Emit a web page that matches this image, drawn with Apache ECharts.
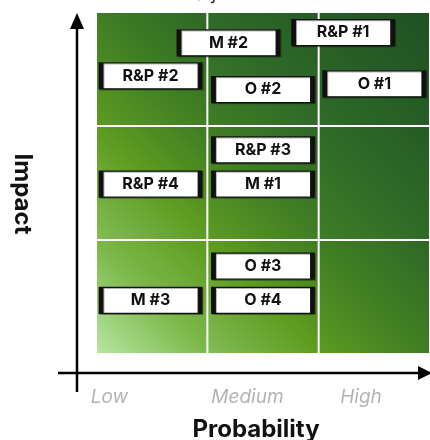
<!DOCTYPE html>
<html>
<head>
<meta charset="utf-8">
<script src="https://cdn.jsdelivr.net/npm/echarts@6/dist/echarts.min.js"></script>
<style>
  html, body { margin: 0; padding: 0; background: #ffffff; }
  #chart { width: 430px; height: 440px; }
</style>
</head>
<body>
<div id="chart"></div>
<script>
// Probability levels along the horizontal axis and where their labels sit
const probabilityLevels = ['Low', 'Medium', 'High'];
const probabilityLabelAt = [0.12, 1.36, 2.38];

// Risks: name, probability score (0-3), impact score (0-3)
const riskNames = ['R&P #1', 'M #2', 'R&P #2', 'O #2', 'O #1', 'R&P #3', 'R&P #4', 'M #1', 'O #3', 'O #4', 'M #3'];
const riskProbability = [2.22, 1.19, 0.49, 1.50, 2.50, 1.50, 0.49, 1.50, 1.50, 1.50, 0.49];
const riskImpact = [2.82, 2.73, 2.44, 2.32, 2.37, 1.79, 1.49, 1.49, 0.77, 0.47, 0.47];

// 3x3 matrix cells: [probability band, impact band]
const matrixCells = [[0, 0], [1, 0], [2, 0], [0, 1], [1, 1], [2, 1], [0, 2], [1, 2], [2, 2]];

// Green shades per severity step (band sum), bottom-left -> top-right of each cell
const cellShades = [
  ['#b6e5a2', '#7db84a', '#5b9b20'],
  ['#84bb56', '#5e9c21', '#3e7c23'],
  ['#5c9b21', '#407e24', '#2d6826'],
  ['#3f7d26', '#2f6b27', '#255b25'],
  ['#2f6b28', '#265d26', '#1f5123']
];

const chart = echarts.init(document.getElementById('chart'), null, { renderer: 'canvas' });

const riskData = riskNames.map((n, k) => ({ name: n, value: [riskProbability[k], riskImpact[k]] }));

chart.setOption({
  animation: false,
  backgroundColor: '#ffffff',
  grid: { left: 96, top: 12, width: 336, height: 342, containLabel: false },
  xAxis: {
    type: 'value', min: 0, max: 3, interval: 1,
    axisLine: { show: false }, axisTick: { show: false }, splitLine: { show: false },
    axisLabel: {
      customValues: probabilityLabelAt,
      formatter: (v) => {
        const idx = probabilityLabelAt.findIndex(p => Math.abs(p - v) < 1e-6);
        return idx >= 0 ? probabilityLevels[idx] : '';
      },
      margin: 34,
      fontFamily: 'Inter', fontStyle: 'italic', fontSize: 19, color: '#b3b3b3'
    }
  },
  yAxis: {
    type: 'value', min: 0, max: 3, interval: 1,
    axisLine: { show: false }, axisTick: { show: false }, splitLine: { show: false },
    axisLabel: { show: false }
  },
  graphic: [
    // title line above the matrix
    { type: 'text', left: 33, top: -14, style: { text: 'Risk Assessment Analysis', font: '17px Inter', fill: '#222' } },
    // vertical axis arrow
    { type: 'polyline', shape: { points: [[77, 392], [77, 26]] }, style: { stroke: '#000', lineWidth: 2.5 } },
    { type: 'polygon', shape: { points: [[77, 13], [70, 29], [84, 29]] }, style: { fill: '#000' } },
    // horizontal axis arrow
    { type: 'polyline', shape: { points: [[58, 373], [420, 373]] }, style: { stroke: '#000', lineWidth: 2.5 } },
    { type: 'polygon', shape: { points: [[432, 373], [418, 366], [418, 380]] }, style: { fill: '#000' } },
    // axis titles
    { type: 'text', x: 22, y: 194, rotation: -Math.PI / 2,
      style: { text: 'Impact', font: 'bold 24px Inter', fill: '#111', align: 'center', verticalAlign: 'middle' } },
    { type: 'text', x: 256, y: 430,
      style: { text: 'Probability', font: 'bold 24px Inter', fill: '#111', align: 'center', verticalAlign: 'middle' } }
  ],
  series: [
    {
      type: 'custom',
      silent: true,
      data: matrixCells,
      renderItem: (params, api) => {
        const i = api.value(0), j = api.value(1);
        const bl = api.coord([i, j]);
        const tr = api.coord([i + 1, j + 1]);
        const gap = 1;
        const s = cellShades[i + j];
        return {
          type: 'rect',
          shape: { x: bl[0] + gap, y: tr[1] + gap, width: tr[0] - bl[0] - 2 * gap, height: bl[1] - tr[1] - 2 * gap },
          style: {
            fill: new echarts.graphic.LinearGradient(0, 1, 1, 0, [
              { offset: 0, color: s[0] }, { offset: 0.5, color: s[1] }, { offset: 1, color: s[2] }
            ])
          }
        };
      },
      z: 1
    },
    {
      type: 'scatter',
      data: riskData,
      symbol: 'rect',
      symbolSize: [99, 26],
      itemStyle: {
        color: '#ffffff', borderColor: '#111', borderWidth: 2.5, opacity: 1,
        shadowColor: 'rgba(0,0,0,0.3)', shadowOffsetX: 1, shadowOffsetY: 1, shadowBlur: 0
      },
      label: {
        show: true, position: 'inside', formatter: '{b}',
        fontFamily: 'Inter', fontWeight: 'bold', fontSize: 16, color: '#111'
      },
      emphasis: { disabled: true },
      z: 3
    }
  ]
});
</script>
</body>
</html>
